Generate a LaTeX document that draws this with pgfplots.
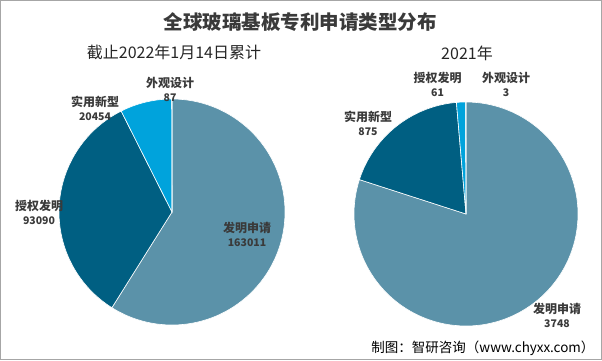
\documentclass[border=0pt]{standalone}
\usepackage{pgfplots}
\usepackage{pgfplotstable}
\pgfplotsset{compat=1.18}
\usepackage{fontspec}
\setmainfont{Noto Sans CJK SC}
\definecolor{cA}{HTML}{5B92A9}
\definecolor{cB}{HTML}{005F82}
\definecolor{cC}{HTML}{00A3DC}
\definecolor{cD}{HTML}{6FC0E0}
\definecolor{txt}{HTML}{3A3A3A}
\definecolor{frame}{HTML}{A6A6A6}

% cumulative to 2022-01-14
\pgfplotstableread{
idx value
1 163011
2 93090
3 20454
4 87
}\cumtab
% year 2021
\pgfplotstableread{
idx value
1 3748
2 875
3 61
4 3
}\yeartab

\pgfplotstablegetelem{0}{value}\of\cumtab \edef\lA{\pgfplotsretval}
\pgfplotstablegetelem{1}{value}\of\cumtab \edef\lB{\pgfplotsretval}
\pgfplotstablegetelem{2}{value}\of\cumtab \edef\lC{\pgfplotsretval}
\pgfplotstablegetelem{3}{value}\of\cumtab \edef\lD{\pgfplotsretval}
\pgfplotstablegetelem{0}{value}\of\yeartab \edef\rA{\pgfplotsretval}
\pgfplotstablegetelem{1}{value}\of\yeartab \edef\rB{\pgfplotsretval}
\pgfplotstablegetelem{2}{value}\of\yeartab \edef\rC{\pgfplotsretval}
\pgfplotstablegetelem{3}{value}\of\yeartab \edef\rD{\pgfplotsretval}

\edef\lT{\fpeval{\lA+\lB+\lC+\lD}}
\edef\lE{\fpeval{90-360*\lA/\lT}}
\edef\lF{\fpeval{90-360*(\lA+\lB)/\lT}}
\edef\lG{\fpeval{90-360*(\lA+\lB+\lC)/\lT}}

\edef\rT{\fpeval{\rA+\rB+\rC+\rD}}
\edef\rE{\fpeval{90-360*\rA/\rT}}
\edef\rF{\fpeval{90-360*(\rA+\rB)/\rT}}
\edef\rG{\fpeval{90-360*(\rA+\rB+\rC)/\rT}}

\newcommand\slice[6]{%
  \addplot[fill=#6, draw=white, line width=0.6pt, domain=#5:#4, samples=120, variable=\t]
    ({#1+#3*cos(\t)},{#2+#3*sin(\t)}) -- (axis cs:#1,#2) -- cycle;}

\newcommand\lab[4]{%
  \node[font=\fontsize{12}{14}\selectfont\bfseries, text=txt, anchor=center] at (axis cs:#1,#2) {#3};
  \node[font=\fontsize{10.5}{12}\selectfont\bfseries, text=txt, anchor=center] at (axis cs:#1,#2-14.5) {#4};}

\begin{document}
\begin{tikzpicture}
\begin{axis}[
  width=602pt, height=360pt, scale only axis,
  xmin=0, xmax=602, ymin=0, ymax=360,
  hide axis, clip=false]
  % left pie
  \slice{172}{148}{113}{90}{\lE}{cA}
  \slice{172}{148}{113}{\lE}{\lF}{cB}
  \slice{172}{148}{113}{\lF}{\lG}{cC}
  \slice{172}{148}{113}{\lG}{-270}{cD}
  % right pie
  \slice{466}{146}{112}{90}{\rE}{cA}
  \slice{466}{146}{112}{\rE}{\rF}{cB}
  \slice{466}{146}{112}{\rF}{\rG}{cC}
  \slice{466}{146}{112}{\rG}{-270}{cD}

  \draw[frame, line width=1pt] (axis cs:0.5,0.5) rectangle (axis cs:601.5,359.5);

  \node[font=\fontsize{19.5}{22}\selectfont\bfseries, text=txt] at (axis cs:300,338) {全球玻璃基板专利申请类型分布};
  \node[font=\fontsize{16}{18}\selectfont, text=black!85] at (axis cs:174,308) {截止2022年1月14日累计};
  \node[font=\fontsize{16}{18}\selectfont, text=black!85] at (axis cs:467,307) {2021年};

  \lab{170}{277}{外观设计}{87}
  \lab{95}{258}{实用新型}{20454}
  \lab{39}{154}{授权发明}{93090}
  \lab{247}{132}{发明申请}{163011}

  \lab{437.5}{282}{授权发明}{61}
  \lab{506}{282}{外观设计}{3}
  \lab{368}{243}{实用新型}{875}
  \lab{557}{51}{发明申请}{3748}

  \node[font=\fontsize{13.5}{15}\selectfont, text=black, anchor=east] at (axis cs:598,12) {制图：智研咨询（www.chyxx.com）};
\end{axis}
\end{tikzpicture}
\end{document}
